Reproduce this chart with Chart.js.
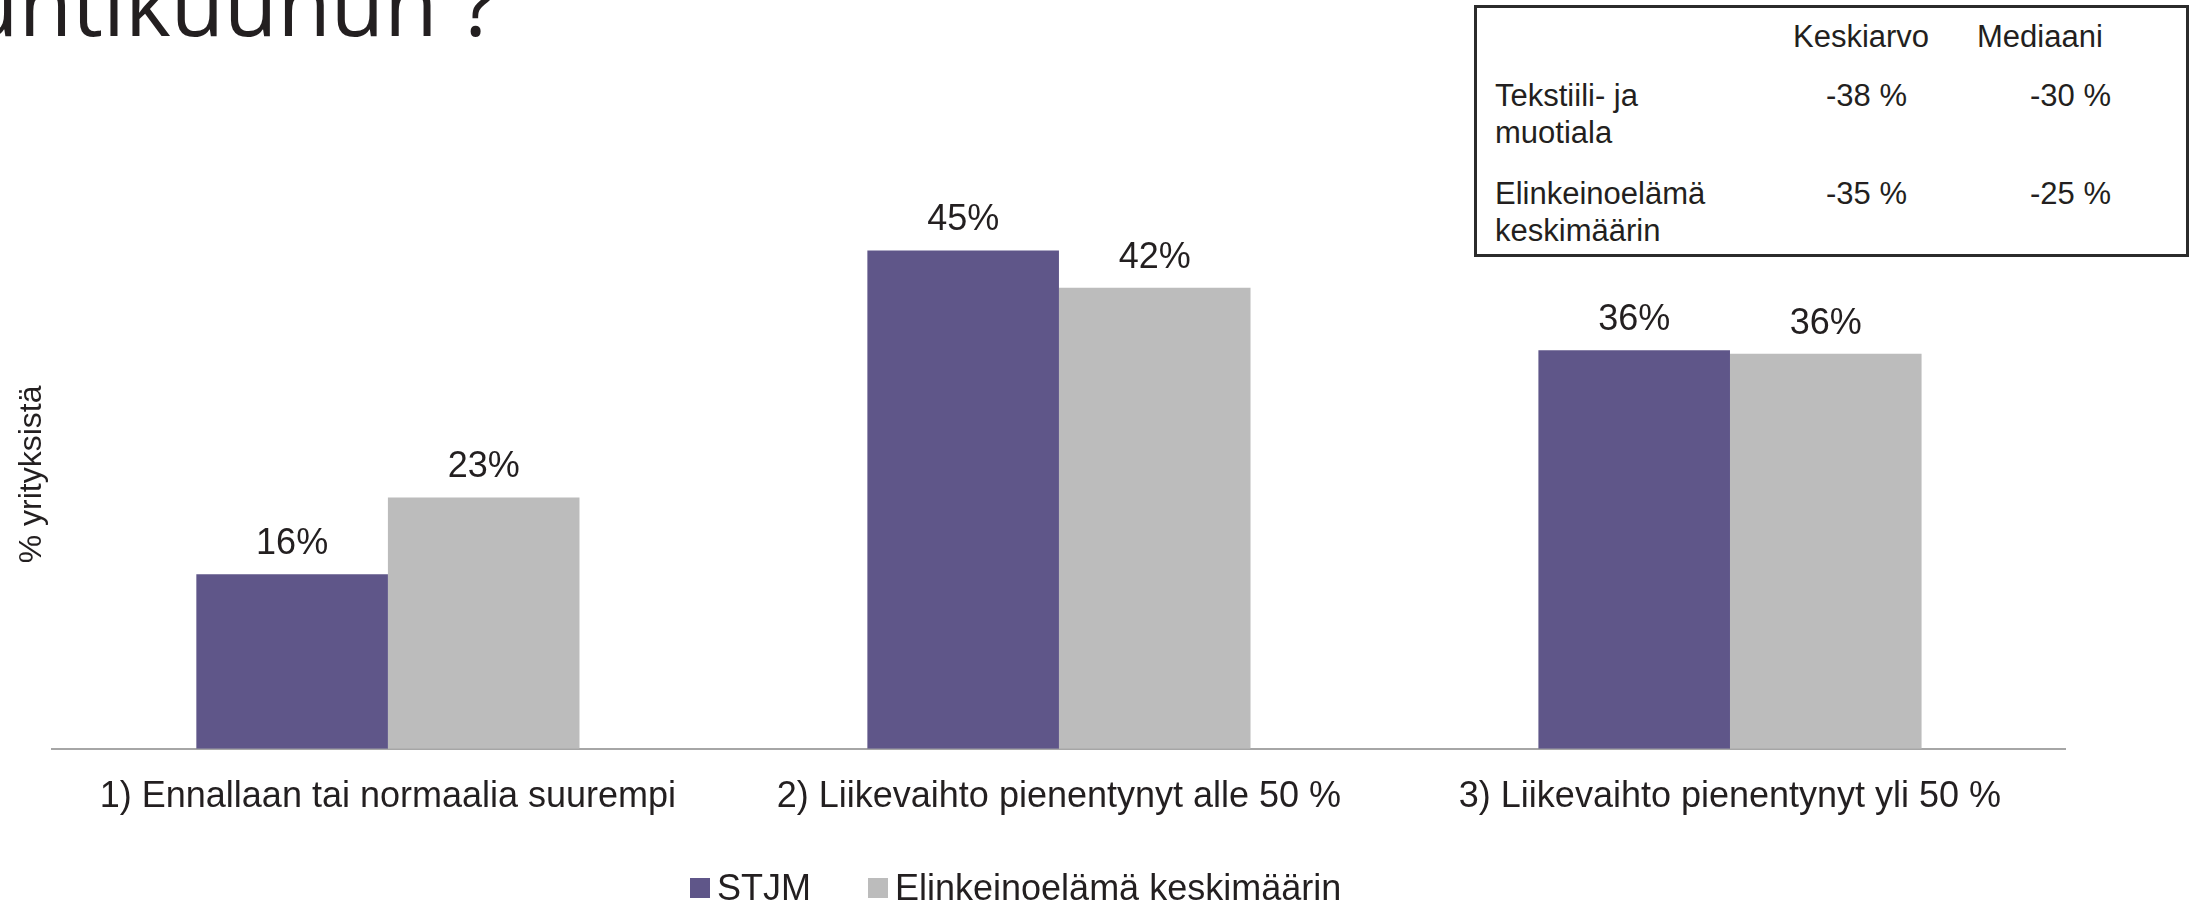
<!DOCTYPE html>
<html lang="fi">
<head>
    <meta charset="UTF-8">
    <title>Liikevaihdon kehitys</title>
    <style>
        html, body {
            margin: 0;
            padding: 0;
            background: #fff;
            overflow: hidden;
        }
        body {
            position: relative;
            width: 2192px;
            height: 903px;
            font-family: "Liberation Sans", Arial, sans-serif;
            color: #231f20;
        }
        .page-title {
            position: absolute;
            left: -88px;
            top: -41px;
            font-family: "Open Sans", sans-serif;
            font-size: 87px;
            line-height: 87px;
            white-space: nowrap;
            color: #231f20;
        }
        .chart-box {
            position: absolute;
            left: 0;
            top: 0;
            width: 2192px;
            height: 903px;
        }
        .stats-box {
            position: absolute;
            left: 1474px;
            top: 5px;
            width: 715px;
            height: 252px;
            box-sizing: border-box;
            border: 3px solid #2b2b2b;
            background: #fff;
        }
        .t {
            position: absolute;
            font-size: 31px;
            line-height: 31px;
            white-space: nowrap;
        }
        #legend {
            position: absolute;
            left: 690px;
            top: 870px;
            display: flex;
            font-size: 36px;
            line-height: 36px;
        }
        #legend .item {
            display: flex;
            align-items: flex-start;
            margin-right: 57px;
        }
        #legend .swatch {
            width: 20px;
            height: 20px;
            margin-top: 8px;
            margin-right: 7px;
        }
    </style>
</head>
<body>
    <div class="page-title">huhtikuuhun ?</div>
    <div class="chart-box"><canvas id="chart"></canvas></div>
    <div class="stats-box"></div>
    <div id="stats"></div>
    <div id="legend"></div>

    <script src="https://cdn.jsdelivr.net/npm/chart.js"></script>
    <script>
        const categories = [
            '1) Ennallaan tai normaalia suurempi',
            '2) Liikevaihto pienentynyt alle 50 %',
            '3) Liikevaihto pienentynyt yli 50 %'
        ];
        const seriesNames = ['STJM', 'Elinkeinoelämä keskimäärin'];
        const stjmValues = [15.9, 45.4, 36.3];
        const averageValues = [22.9, 42.0, 36.0];
        const seriesColors = ['#5f5689', '#bcbcbc'];

        const tableHeaders = ['Keskiarvo', 'Mediaani'];
        const tableRowLabels = [['Tekstiili- ja', 'muotiala'], ['Elinkeinoelämä', 'keskimäärin']];
        const tableMeans = ['-38 %', '-35 %'];
        const tableMedians = ['-30 %', '-25 %'];

        const textColor = '#231f20';

        // small stats table in the top right corner
        const stats = document.getElementById('stats');
        function addText(str, left, baseline) {
            const d = document.createElement('div');
            d.className = 't';
            d.textContent = str;
            d.style.left = left + 'px';
            d.style.top = (baseline - 26) + 'px';
            stats.appendChild(d);
        }
        addText(tableHeaders[0], 1793, 47);
        addText(tableHeaders[1], 1977, 47);
        const rowBaselines = [106, 204];
        tableRowLabels.forEach((lines, i) => {
            lines.forEach((line, j) => addText(line, 1495, rowBaselines[i] + j * 37));
            addText(tableMeans[i], 1826, rowBaselines[i]);
            addText(tableMedians[i], 2030, rowBaselines[i]);
        });

        // value labels above the bars
        const barLabels = {
            id: 'barLabels',
            afterDatasetsDraw(chart) {
                const ctx = chart.ctx;
                ctx.save();
                ctx.font = '36px "Liberation Sans", Arial, sans-serif';
                ctx.fillStyle = textColor;
                ctx.textAlign = 'center';
                ctx.textBaseline = 'alphabetic';
                chart.data.datasets.forEach((ds, i) => {
                    chart.getDatasetMeta(i).data.forEach((bar, j) => {
                        ctx.fillText(Math.round(ds.data[j]) + '%', bar.x, bar.y - 20);
                    });
                });
                ctx.restore();
            }
        };

        const chart = new Chart(document.getElementById('chart'), {
            type: 'bar',
            data: {
                labels: categories,
                datasets: [
                    {
                        label: seriesNames[0],
                        data: stjmValues,
                        backgroundColor: seriesColors[0],
                        borderWidth: 0
                    },
                    {
                        label: seriesNames[1],
                        data: averageValues,
                        backgroundColor: seriesColors[1],
                        borderWidth: 0
                    }
                ]
            },
            options: {
                responsive: true,
                maintainAspectRatio: false,
                animation: false,
                devicePixelRatio: 1,
                layout: {
                    padding: { top: 200, right: 126.5, bottom: 57, left: 0 }
                },
                datasets: {
                    bar: {
                        barPercentage: 1,
                        categoryPercentage: 0.571
                    }
                },
                plugins: {
                    legend: { display: false },
                    tooltip: { enabled: false }
                },
                scales: {
                    x: {
                        grid: { display: false, drawTicks: false },
                        border: { display: true, color: '#a6a6a6', width: 2 },
                        ticks: {
                            padding: 27,
                            color: textColor,
                            font: { family: '"Liberation Sans", Arial, sans-serif', size: 36 }
                        }
                    },
                    y: {
                        min: 0,
                        max: 50,
                        grid: { display: false, drawTicks: false },
                        border: { display: false },
                        ticks: { display: false },
                        title: {
                            display: true,
                            text: '% yrityksistä',
                            color: textColor,
                            padding: { top: 13, bottom: 1 },
                            font: { family: '"Liberation Sans", Arial, sans-serif', size: 32 }
                        }
                    }
                }
            },
            plugins: [barLabels]
        });

        // legend built from the chart's own datasets
        const legend = document.getElementById('legend');
        chart.data.datasets.forEach(ds => {
            const item = document.createElement('div');
            item.className = 'item';
            const sw = document.createElement('span');
            sw.className = 'swatch';
            sw.style.background = ds.backgroundColor;
            const label = document.createElement('span');
            label.textContent = ds.label;
            item.appendChild(sw);
            item.appendChild(label);
            legend.appendChild(item);
        });
    </script>
</body>
</html>
